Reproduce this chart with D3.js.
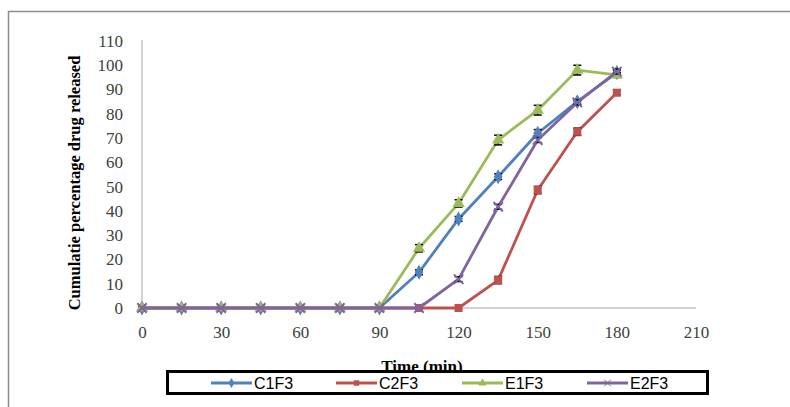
<!DOCTYPE html>
<html>
<head>
<meta charset="utf-8">
<script src="https://cdn.jsdelivr.net/npm/d3@7"></script>
<style>
  body { margin: 0; background: #fff; }
  svg { display: block; }
</style>
</head>
<body>
<svg id="plot" width="790" height="407"></svg>
<script>
const times = [0, 15, 30, 45, 60, 75, 90, 105, 120, 135, 150, 165, 180];
const seriesNames = ["C1F3", "C2F3", "E1F3", "E2F3"];
const c1f3 = [0, 0, 0, 0, 0, 0, 0, 14.7, 36.7, 54.1, 72, 85, 97];
const c2f3 = [0, 0, 0, 0, 0, 0, 0, 0, 0, 11.5, 48.6, 72.6, 88.7];
const e1f3 = [0, 0, 0, 0, 0, 0, 0, 24.6, 43.1, 69.2, 81.5, 98, 96];
const e2f3 = [0, 0, 0, 0, 0, 0, 0, 0, 11.9, 41.7, 69.2, 84.7, 97.4];
const c1f3Err = [0, 0, 0, 0, 0, 0, 0, 1, 1, 1.2, 1.5, 1, 1];
const c2f3Err = [0, 0, 0, 0, 0, 0, 0, 0, 0, 1.5, 1.5, 1.5, 1];
const e1f3Err = [0, 0, 0, 0, 0, 0, 0, 1.5, 1.5, 2, 2, 2, 1];
const e2f3Err = [0, 0, 0, 0, 0, 0, 0, 0, 1, 1, 1, 1, 1];
const xTicks = [0, 30, 60, 90, 120, 150, 180, 210];
const yTicks = [0, 10, 20, 30, 40, 50, 60, 70, 80, 90, 100, 110];

const colors = ["#4F81BD", "#C0504D", "#9BBB59", "#8064A2"];
const symbols = [d3.symbolDiamond, d3.symbolSquare, d3.symbolTriangle, d3.symbolX];
const values = [c1f3, c2f3, e1f3, e2f3];
const errors = [c1f3Err, c2f3Err, e1f3Err, e2f3Err];

const svg = d3.select("#plot");

// outer frame (top and left edges only)
svg.append("path")
  .attr("d", "M8.5,407 V11.5 H790")
  .attr("fill", "none")
  .attr("stroke", "#8c8c8c")
  .attr("stroke-width", 1.5);

const x = d3.scaleLinear([0, 210], [142, 696]);
const y = d3.scaleLinear([0, 110], [308, 41]);

const axisFont = "'Liberation Serif', 'Times New Roman', serif";

// axis lines
svg.append("line")
  .attr("x1", x(0)).attr("x2", x(210))
  .attr("y1", y(0)).attr("y2", y(0))
  .attr("stroke", "#a6a6a6");
svg.append("line")
  .attr("x1", x(0)).attr("x2", x(0))
  .attr("y1", y(0)).attr("y2", y(110) - 1)
  .attr("stroke", "#a6a6a6");

const xAxis = svg.append("g")
  .attr("transform", `translate(0,${y(0)})`)
  .call(d3.axisBottom(x).tickValues(xTicks).tickSize(0).tickPadding(18));
const yAxis = svg.append("g")
  .attr("transform", `translate(${x(0)},0)`)
  .call(d3.axisLeft(y).tickValues(yTicks).tickSize(0).tickPadding(19));
[xAxis, yAxis].forEach((g) => {
  g.select(".domain").remove();
  g.selectAll("text")
    .attr("font-family", axisFont)
    .attr("font-size", 17)
    .attr("fill", "#404040");
});

// y title
svg.append("text")
  .attr("transform", `translate(80,183) rotate(-90)`)
  .attr("text-anchor", "middle")
  .attr("font-family", axisFont)
  .attr("font-weight", "bold")
  .attr("font-size", 16.5)
  .attr("fill", "#000")
  .text("Cumulatie percentage drug released");

// x title
svg.append("text")
  .attr("x", 422)
  .attr("y", 372)
  .attr("text-anchor", "middle")
  .attr("font-family", axisFont)
  .attr("font-weight", "bold")
  .attr("font-size", 17)
  .attr("fill", "#000")
  .text("Time (min)");

const line = d3.line().x((d) => x(d[0])).y((d) => y(d[1]));

values.forEach((vals, i) => {
  const pts = times.map((t, j) => [t, vals[j], errors[i][j]]);
  svg.append("path")
    .datum(pts)
    .attr("fill", "none")
    .attr("stroke", colors[i])
    .attr("stroke-width", 2.8)
    .attr("stroke-linejoin", "round")
    .attr("d", line);

  const g = svg.append("g");
  // error bars
  pts.filter((d) => d[2] > 0).forEach((d) => {
    const cx = x(d[0]);
    const y1 = y(d[1] + d[2]), y2 = y(d[1] - d[2]);
    g.append("line").attr("x1", cx).attr("x2", cx).attr("y1", y1).attr("y2", y2)
      .attr("stroke", "#000").attr("stroke-width", 1.2);
    [y1, y2].forEach((yy) => {
      g.append("line").attr("x1", cx - 4).attr("x2", cx + 4).attr("y1", yy).attr("y2", yy)
        .attr("stroke", "#000").attr("stroke-width", 1.5);
    });
  });

  g.selectAll("path.marker")
    .data(pts)
    .join("path")
    .attr("class", "marker")
    .attr("transform", (d) => `translate(${x(d[0])},${y(d[1])})`)
    .attr("d", d3.symbol(symbols[i], i === 3 ? 60 : 65))
    .attr("fill", colors[i])
    .attr("stroke", i === 3 ? colors[i] : "none")
    .attr("stroke-width", i === 3 ? 2 : 0);
});

// legend
const legend = svg.append("g");
legend.append("rect")
  .attr("x", 167.5).attr("y", 371.5)
  .attr("width", 540).attr("height", 22)
  .attr("fill", "#fff")
  .attr("stroke", "#000")
  .attr("stroke-width", 3);

const legendX = [211, 336, 462, 587];
seriesNames.forEach((name, i) => {
  const lx = legendX[i], ly = 383;
  legend.append("line")
    .attr("x1", lx).attr("x2", lx + 41)
    .attr("y1", ly).attr("y2", ly)
    .attr("stroke", colors[i])
    .attr("stroke-width", 2.8);
  legend.append("path")
    .attr("transform", `translate(${lx + 20.5},${ly})`)
    .attr("d", d3.symbol(symbols[i], 30))
    .attr("fill", colors[i])
    .attr("stroke", i === 3 ? colors[i] : "none");
  legend.append("text")
    .attr("x", lx + 43)
    .attr("y", ly + 6)
    .attr("font-family", "'Liberation Sans', Arial, sans-serif")
    .attr("font-size", 16)
    .attr("fill", "#000")
    .text(name);
});
</script>
</body>
</html>
